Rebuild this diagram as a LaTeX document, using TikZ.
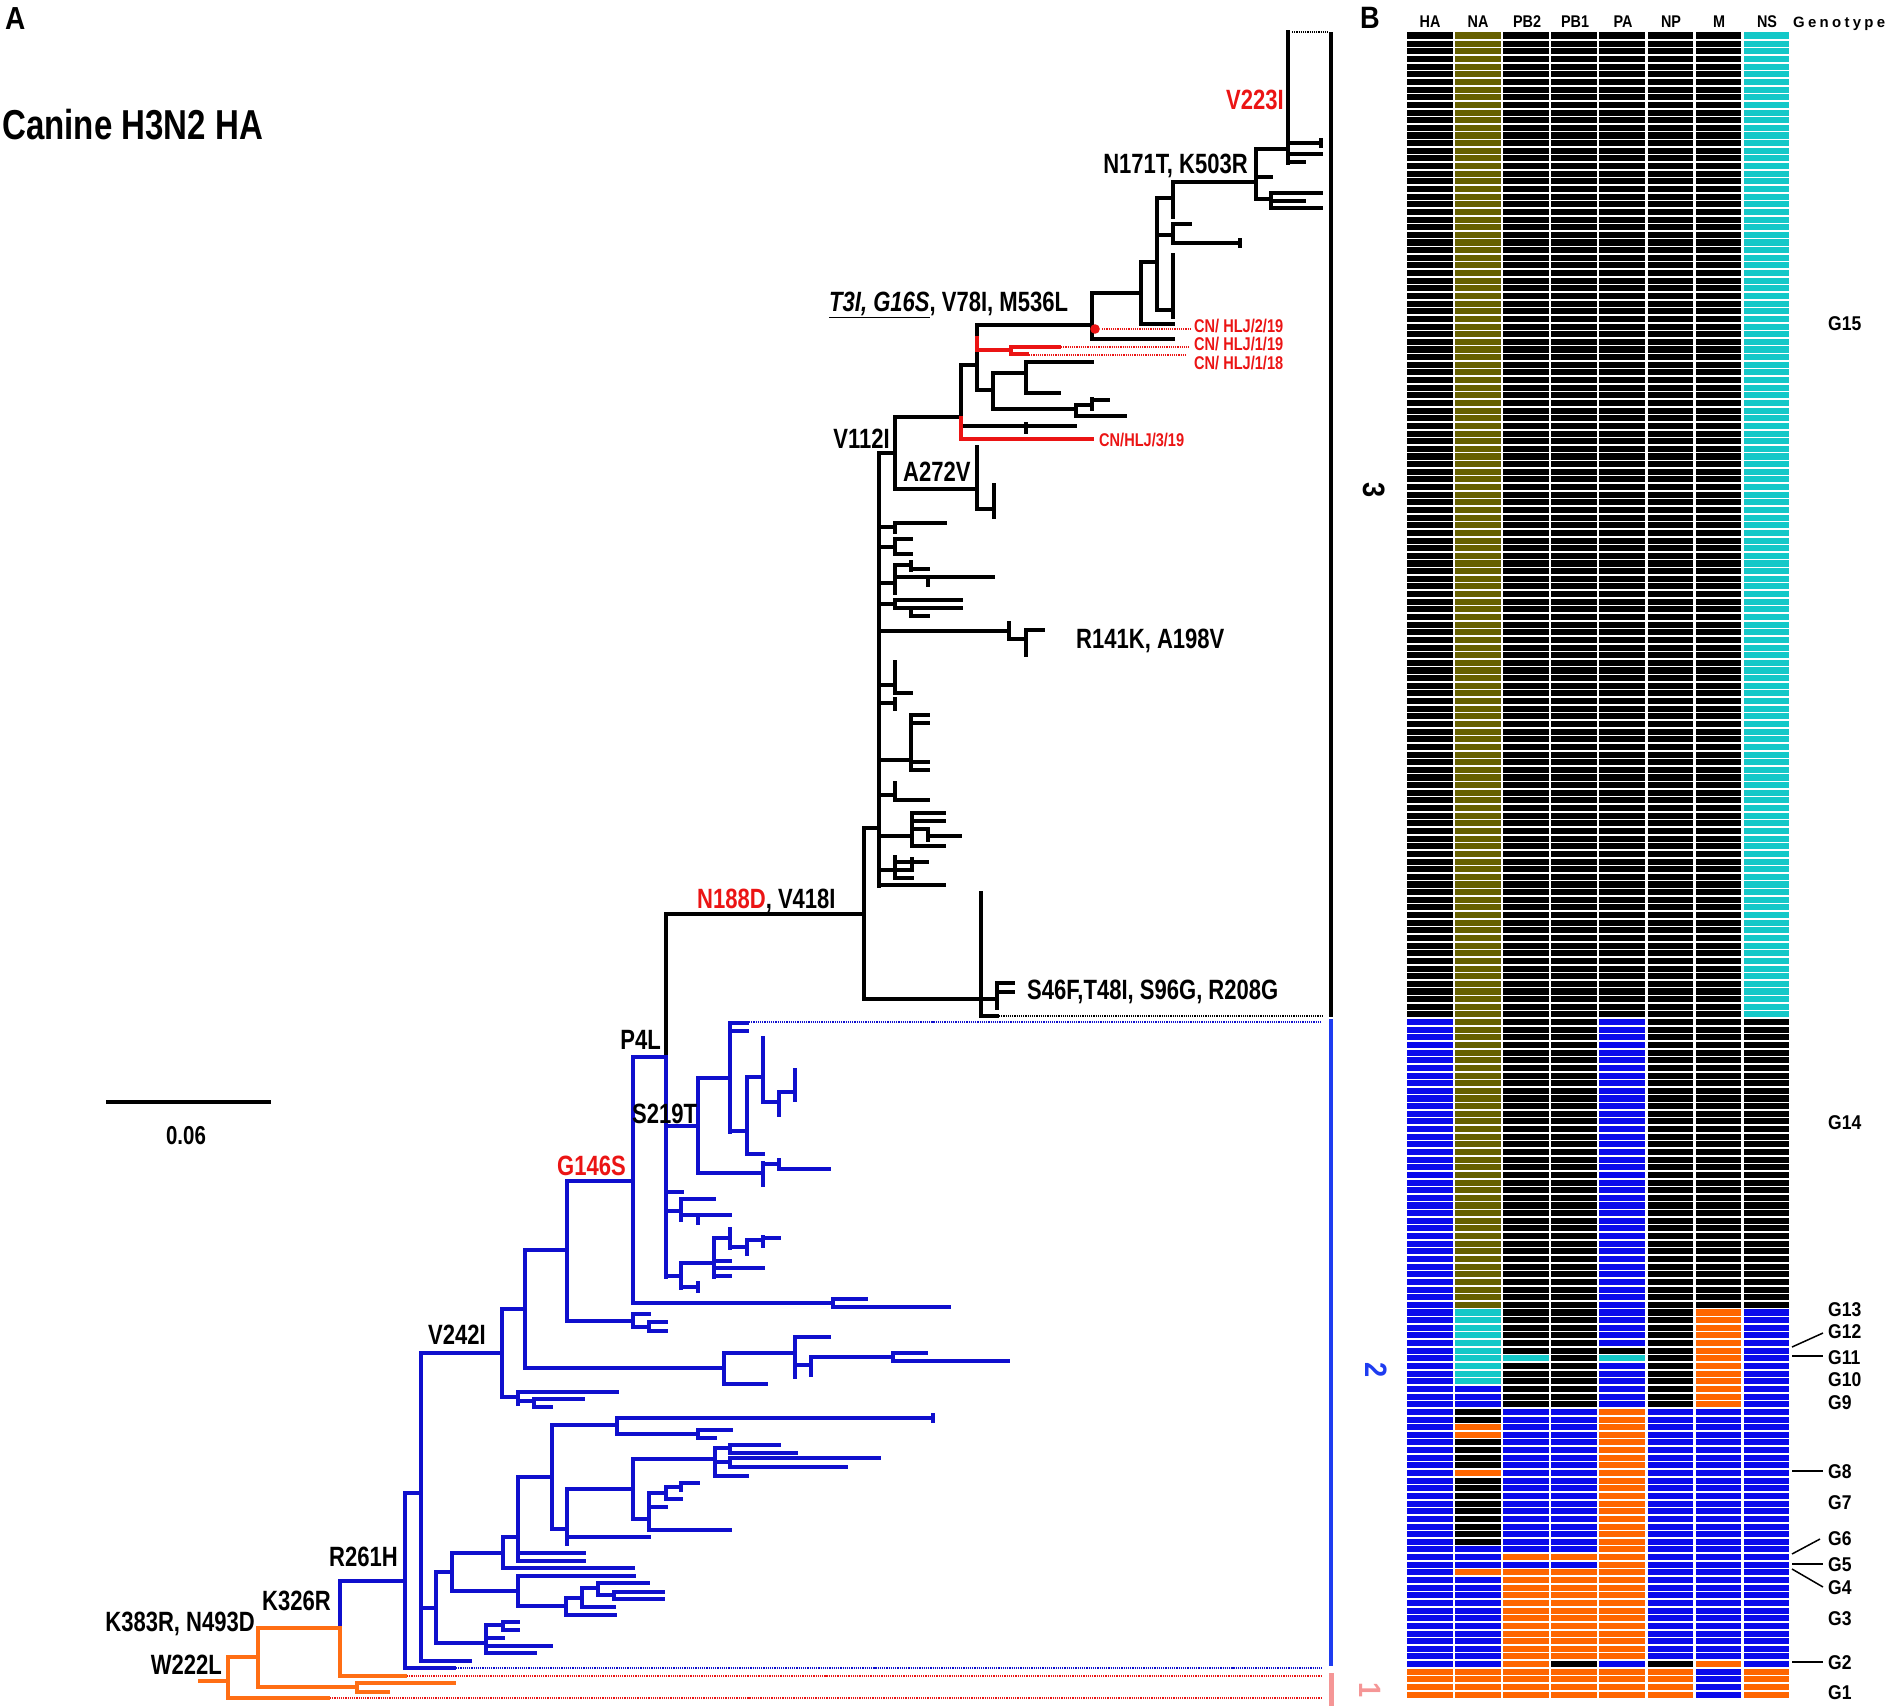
\documentclass[tikz,border=0pt]{standalone}
\usepackage{fontspec}
\setmainfont{Liberation Sans}[FakeStretch=0.88]
\newfontfamily\mfont{Liberation Sans}[FakeStretch=0.79]
\newfontfamily\hfont{Liberation Sans}[FakeStretch=0.85]
\newfontfamily\gfont{Liberation Sans}[LetterSpace=22]
\definecolor{tblue}{RGB}{15,15,205}
\definecolor{torange}{RGB}{255,110,20}
\definecolor{tred}{RGB}{235,20,20}
\definecolor{hK}{RGB}{0,0,0}
\definecolor{hB}{RGB}{10,10,235}
\definecolor{hR}{RGB}{255,102,0}
\definecolor{hO}{RGB}{102,96,0}
\definecolor{hC}{RGB}{20,200,200}
\definecolor{barblue}{RGB}{30,60,240}
\definecolor{barpink}{RGB}{245,150,150}
\newcommand\Hz[3]{\draw (#2,#1) -- (#3,#1);}
\newcommand\Vt[3]{\draw (#1,#2) -- (#1,#3);}
\newcommand\cellrun[4]{\fill[#4] ({1407+48.1*#1},{32.3+7.643*#2}) rectangle ({1452.5+48.1*#1},{32.3+7.643*(#3+1)});}
\begin{document}
\begin{tikzpicture}[x=1bp,y=-1bp,
  branch/.style={line width=3.6bp, line cap=rect},
  lead/.style={line width=1.2bp, densely dotted},
  mut/.style={font=\mfont\fontsize{28}{32}\selectfont\bfseries, inner sep=0},
  strain/.style={font=\mfont\fontsize{18.5}{22}\selectfont\bfseries, inner sep=0, text=tred},
  geno/.style={font=\fontsize{20}{24}\selectfont\bfseries, inner sep=0, anchor=base west},
  head/.style={font=\hfont\fontsize{17}{19}\selectfont\bfseries, inner sep=0, anchor=base},
  clade/.style={font=\fontsize{31}{34}\selectfont\bfseries, inner sep=0, rotate=-90},
  ptr/.style={line width=1.5bp}]
\useasboundingbox (0,0) rectangle (1890,1706);

% ---------------- titles ----------------
\node[font=\fontsize{32}{36}\selectfont\bfseries, inner sep=0, anchor=base west] (lblA) at (5,29) {A};
\node[font=\fontsize{31}{35}\selectfont\bfseries, inner sep=0, anchor=base west] (lblB) at (1360,28) {B};
\node[font=\mfont\fontsize{42}{46}\selectfont\bfseries, inner sep=0, anchor=base west] (title) at (2,139) {Canine H3N2 HA};

% scale bar
\draw[line width=3.2bp] (106,1102) -- (271,1102);
\node[font=\mfont\fontsize{26}{30}\selectfont\bfseries, inner sep=0, anchor=base] (scale) at (186,1144) {0.06};

% ---------------- black tree (clade 3) ----------------
\begin{scope}[branch, black]
\Vt{1288}{32}{163}
\Hz{143}{1288}{1321} \Vt{1321}{140}{146}
\Hz{154}{1288}{1321}
\Hz{162}{1288}{1304}
\Hz{149}{1256}{1288}
\Vt{1256}{149}{199}
\Hz{177}{1256}{1271}
\Hz{199}{1256}{1271}
\Vt{1271}{193}{208}
\Hz{193}{1271}{1321}
\Hz{201}{1271}{1304}
\Hz{208}{1271}{1321}
\Hz{182}{1173}{1256}
\Vt{1173}{182}{217}
\Hz{198}{1157}{1173}
\Vt{1157}{198}{310}
\Hz{235}{1157}{1173}
\Vt{1173}{224}{243}
\Hz{224}{1173}{1190}
\Hz{243}{1173}{1240} \Vt{1240}{240}{246}
\Hz{310}{1157}{1173}
\Vt{1173}{255}{317}
\Hz{262}{1141}{1157}
\Vt{1141}{262}{324}
\Hz{324}{1141}{1173}
\Hz{293}{1092}{1141}
\Vt{1092}{293}{339}
\Hz{339}{1092}{1173}
\Hz{325}{977}{1092}
\Vt{977}{325}{338}
\Vt{977}{350}{390}
\Hz{390}{977}{993}
\Vt{993}{373}{409}
\Hz{373}{993}{1026}
\Vt{1026}{362}{393}
\Hz{362}{1026}{1092}
\Hz{393}{1026}{1059}
\Hz{409}{993}{1076}
\Vt{1076}{405}{416}
\Hz{405}{1076}{1092}
\Vt{1092}{399}{409}
\Hz{400}{1092}{1108}
\Hz{416}{1076}{1125}
\Hz{365}{961}{977}
\Vt{961}{365}{418}
\Hz{426}{961}{1075} \Vt{1026}{424}{432}
\Hz{417}{895}{961}
\Vt{895}{417}{489}
\Hz{489}{895}{977}
\Vt{977}{447}{509}
\Hz{509}{977}{994}
\Vt{994}{485}{517}
\Hz{453}{879}{895}
\Vt{879}{453}{886}
% children of the 879 comb
\Hz{527}{879}{895} \Vt{895}{523}{532} \Hz{523}{895}{945}
\Hz{547}{879}{895} \Vt{895}{539}{554} \Hz{539}{895}{911} \Hz{554}{895}{911}
\Hz{583}{879}{895} \Vt{895}{565}{593} \Hz{565}{895}{911} \Vt{911}{562}{570} \Hz{569}{911}{928}
\Hz{577}{895}{928} \Vt{928}{577}{585} \Hz{577}{928}{993}
\Hz{604}{879}{895} \Vt{895}{600}{608} \Hz{600}{895}{961} \Hz{608}{895}{911} \Vt{911}{608}{616} \Hz{608}{911}{961} \Hz{616}{911}{928}
\Hz{631}{879}{1009} \Vt{1009}{623}{639} \Hz{639}{1009}{1026} \Vt{1026}{630}{655} \Hz{630}{1026}{1043}
\Hz{685}{879}{895} \Vt{895}{662}{693} \Hz{693}{895}{911}
\Hz{703}{879}{895} \Vt{895}{699}{709}
\Hz{760}{879}{911} \Vt{911}{715}{770} \Hz{715}{911}{928} \Hz{723}{911}{928} \Hz{762}{911}{928} \Hz{770}{911}{928}
\Hz{795}{879}{895} \Vt{895}{783}{800} \Hz{800}{895}{928}
\Hz{836}{879}{912} \Vt{912}{813}{846} \Hz{813}{912}{944} \Hz{821}{912}{944} \Hz{829}{912}{928} \Vt{928}{833}{840} \Hz{836}{928}{960} \Hz{846}{912}{944}
\Hz{870}{879}{895} \Vt{895}{857}{878} \Hz{862}{895}{912} \Vt{912}{859}{866} \Hz{862}{912}{927} \Hz{870}{895}{912} \Hz{878}{895}{912}
\Hz{885}{879}{944}
\Hz{828}{864}{879}
\Vt{864}{828}{999}
\Hz{914}{666}{864}
\Vt{666}{914}{1057}
\Hz{999}{864}{997}
\Vt{981}{893}{1016}
\Vt{997}{983}{1008}
\Hz{983}{997}{1013}
\Hz{992}{997}{1013}
\Hz{1016}{981}{997}
\end{scope}

% red branches
\begin{scope}[branch, tred]
\Vt{977}{338}{350}
\Hz{350}{977}{1011}
\Vt{1011}{347}{354}
\Hz{347}{1011}{1059}
\Hz{354}{1011}{1027}
\Vt{961}{418}{439}
\Hz{439}{961}{1092}
\end{scope}
\fill[tred] (1095,329) circle (4.8);

% ---------------- blue tree (clade 2) ----------------
\begin{scope}[branch, tblue]
\Vt{340}{1581}{1628}
\Hz{1581}{340}{405}
\Vt{405}{1493}{1668}
\Hz{1668}{405}{454}
\Hz{1493}{405}{421}
\Vt{421}{1353}{1661}
\Hz{1661}{421}{470}
\Hz{1608}{421}{436}
\Vt{436}{1572}{1643}
\Hz{1643}{436}{486} \Vt{486}{1625}{1653}
\Hz{1625}{486}{503} \Vt{503}{1622}{1630} \Hz{1622}{503}{518} \Hz{1630}{503}{518}
\Hz{1638}{486}{503} \Hz{1646}{486}{551} \Hz{1653}{486}{535}
\Hz{1572}{436}{452} \Vt{452}{1553}{1591}
\Hz{1591}{452}{518} \Vt{518}{1576}{1606}
\Hz{1576}{518}{634} \Hz{1606}{518}{566} \Vt{566}{1598}{1615}
\Hz{1598}{566}{582} \Vt{582}{1588}{1607}
\Hz{1588}{582}{598} \Vt{598}{1583}{1595}
\Hz{1583}{598}{648} \Hz{1595}{598}{614} \Vt{614}{1592}{1599}
\Hz{1592}{614}{663} \Hz{1599}{614}{663}
\Hz{1607}{582}{614} \Hz{1615}{566}{615}
\Hz{1553}{452}{503} \Vt{503}{1537}{1568}
\Hz{1568}{503}{633}
\Hz{1537}{503}{518} \Vt{518}{1477}{1561}
\Hz{1553}{518}{584} \Hz{1561}{518}{584}
\Hz{1477}{518}{552} \Vt{552}{1425}{1529}
\Hz{1425}{552}{617} \Vt{617}{1418}{1434}
\Hz{1418}{617}{933} \Vt{933}{1415}{1421}
\Hz{1434}{617}{698} \Vt{698}{1430}{1438} \Hz{1430}{698}{731} \Hz{1438}{698}{715}
\Hz{1529}{552}{567} \Vt{567}{1489}{1544}
\Hz{1537}{567}{649}
\Hz{1489}{567}{633} \Vt{633}{1459}{1519}
\Hz{1459}{633}{715} \Vt{715}{1448}{1476}
\Hz{1448}{715}{730} \Vt{730}{1445}{1453} \Hz{1445}{730}{779} \Hz{1453}{730}{796}
\Hz{1462}{715}{730} \Vt{730}{1458}{1467} \Hz{1458}{730}{879} \Hz{1467}{730}{846}
\Hz{1476}{715}{747}
\Hz{1519}{633}{649} \Vt{649}{1493}{1530}
\Hz{1493}{649}{666} \Vt{666}{1487}{1499}
\Hz{1487}{666}{681} \Vt{681}{1483}{1490} \Hz{1483}{681}{698}
\Hz{1499}{666}{681} \Hz{1507}{649}{666} \Hz{1530}{649}{730}
\Hz{1353}{421}{502} \Vt{502}{1309}{1397}
\Hz{1397}{502}{518} \Vt{518}{1392}{1404}
\Hz{1392}{518}{617} \Hz{1401}{518}{534} \Vt{534}{1399}{1407}
\Hz{1399}{534}{583} \Hz{1407}{534}{551}
\Hz{1309}{502}{525} \Vt{525}{1250}{1368}
\Hz{1368}{525}{724} \Vt{724}{1353}{1384}
\Hz{1384}{724}{766}
\Hz{1353}{724}{795} \Vt{795}{1337}{1377}
\Hz{1337}{795}{829}
\Hz{1365}{795}{811} \Vt{811}{1357}{1375}
\Hz{1357}{811}{893} \Vt{893}{1353}{1361}
\Hz{1353}{893}{926} \Hz{1361}{893}{1008}
\Hz{1250}{525}{567} \Vt{567}{1181}{1321}
\Hz{1321}{567}{633} \Vt{633}{1314}{1327}
\Hz{1314}{633}{649} \Hz{1327}{633}{649} \Vt{649}{1322}{1331}
\Hz{1322}{649}{666} \Hz{1331}{649}{666}
\Hz{1181}{567}{633} \Vt{633}{1057}{1303}
\Hz{1303}{633}{833} \Vt{833}{1299}{1307}
\Hz{1299}{833}{866} \Hz{1307}{833}{949}
\Hz{1057}{633}{666} \Vt{666}{1057}{1277}
\Hz{1126}{666}{698} \Vt{698}{1078}{1173}
\Hz{1078}{698}{730} \Vt{730}{1023}{1132}
\Hz{1023}{730}{747} \Hz{1031}{730}{747}
\Hz{1131}{730}{747} \Vt{747}{1077}{1154}
\Hz{1077}{747}{763} \Vt{763}{1038}{1102}
\Hz{1102}{763}{779} \Vt{779}{1092}{1115}
\Hz{1092}{779}{795} \Vt{795}{1070}{1100}
\Hz{1154}{747}{763}
\Hz{1173}{698}{763} \Vt{763}{1163}{1185}
\Hz{1164}{763}{779} \Vt{779}{1160}{1169} \Hz{1169}{779}{829}
\Hz{1192}{666}{682}
\Hz{1211}{666}{681} \Vt{681}{1199}{1220}
\Hz{1199}{681}{714} \Hz{1215}{681}{698} \Vt{698}{1215}{1223} \Hz{1215}{698}{730}
\Hz{1276}{666}{681} \Vt{681}{1263}{1288}
\Hz{1263}{681}{714} \Vt{714}{1238}{1277}
\Hz{1238}{714}{730} \Vt{730}{1229}{1248}
\Hz{1247}{730}{747} \Vt{747}{1240}{1254}
\Hz{1240}{747}{763} \Vt{763}{1237}{1246} \Hz{1238}{763}{779}
\Hz{1261}{714}{730} \Hz{1268}{714}{763} \Hz{1276}{714}{730}
\Hz{1287}{681}{698} \Vt{698}{1283}{1291}
\end{scope}

% ---------------- orange tree (clade 1) ----------------
\begin{scope}[branch, torange, line width=3.9bp]
\Hz{1681}{200}{228}
\Vt{228}{1657}{1698}
\Hz{1657}{228}{258}
\Hz{1698}{228}{328}
\Vt{258}{1628}{1687}
\Hz{1628}{258}{340}
\Hz{1687}{258}{357}
\Vt{357}{1683}{1692}
\Hz{1683}{357}{454}
\Hz{1692}{357}{388}
\Vt{340}{1628}{1676}
\Hz{1676}{340}{405}
\end{scope}

% ---------------- dotted leaders ----------------
\draw[lead, black] (1292,32) -- (1328,32);
\draw[lead, black] (999,1016) -- (1322,1016);
\draw[lead, tblue] (749,1022) -- (1322,1022);
\draw[lead, tblue] (456,1668) -- (1322,1668);
\draw[lead, tred] (407,1676) -- (1322,1676);
\draw[lead, tred] (330,1698) -- (1322,1698);
\draw[lead, tred] (1102,329) -- (1191,329);
\draw[lead, tred] (1061,347) -- (1189,347);
\draw[lead, tred] (1029,355) -- (1187,355);

% ---------------- mutation labels ----------------
\node[mut, text=tred, anchor=base east] (m1) at (1284,109) {V223I};
\node[mut, anchor=base east] (m2) at (1248,173) {N171T, K503R};
\node[mut, anchor=base west] (m3) at (829,311) {\underline{\itshape T3I, G16S}, V78I, M536L};
\node[mut, anchor=base east] (m4) at (890,448) {V112I};
\node[mut, anchor=base west] (m5) at (903,481) {A272V};
\node[mut, anchor=base west] (m6) at (1076,648) {R141K, A198V};
\node[mut, anchor=base west] (m7) at (697,908) {\textcolor{tred}{N188D}, V418I};
\node[mut, anchor=base west] (m8) at (1027,999) {S46F,T48I, S96G, R208G};
\node[mut, anchor=base east] (m9) at (661,1049) {P4L};
\node[mut, anchor=base west] (m10) at (632,1123) {S219T};
\node[mut, text=tred, anchor=base west] (m11) at (557,1175) {G146S};
\node[mut, anchor=base west] (m12) at (428,1344) {V242I};
\node[mut, anchor=base east] (m13) at (398,1566) {R261H};
\node[mut, anchor=base east] (m14) at (331,1610) {K326R};
\node[mut, anchor=base east] (m15) at (255,1631) {K383R, N493D};
\node[mut, anchor=base east] (m16) at (222,1674) {W222L};

% strain labels
\node[strain, anchor=base west] (s1) at (1194,332) {CN/ HLJ/2/19};
\node[strain, anchor=base west] (s2) at (1194,350) {CN/ HLJ/1/19};
\node[strain, anchor=base west] (s3) at (1194,369) {CN/ HLJ/1/18};
\node[strain, anchor=base west] (s4) at (1099,446) {CN/HLJ/3/19};

% ---------------- clade bars ----------------
\draw[line width=4.2bp, black] (1331,32) -- (1331,1017);
\draw[line width=4.2bp, barblue] (1331,1019) -- (1331,1666);
\draw[line width=5bp, barpink] (1331,1673) -- (1331,1706);
\node[clade, text=black] (c3) at (1374,490) {3};
\node[clade, text=barblue] (c2) at (1376,1370) {2};
\node[clade, text=barpink] (c1) at (1370,1690) {1};

% ---------------- heat map ----------------
\cellrun{0}{0}{128}{hK} \cellrun{0}{129}{213}{hB} \cellrun{0}{214}{217}{hR}
\cellrun{1}{0}{166}{hO} \cellrun{1}{167}{176}{hC} \cellrun{1}{177}{179}{hB} \cellrun{1}{180}{181}{hK}
\cellrun{1}{182}{183}{hR} \cellrun{1}{184}{187}{hK} \cellrun{1}{188}{188}{hR} \cellrun{1}{189}{197}{hK}
\cellrun{1}{198}{200}{hB} \cellrun{1}{201}{201}{hR} \cellrun{1}{202}{213}{hB} \cellrun{1}{214}{217}{hR}
\cellrun{2}{0}{172}{hK} \cellrun{2}{173}{173}{hC} \cellrun{2}{174}{179}{hK} \cellrun{2}{180}{198}{hB}
\cellrun{2}{199}{199}{hR} \cellrun{2}{200}{200}{hB} \cellrun{2}{201}{217}{hR}
\cellrun{3}{0}{179}{hK} \cellrun{3}{180}{198}{hB} \cellrun{3}{199}{199}{hR} \cellrun{3}{200}{200}{hB}
\cellrun{3}{201}{212}{hR} \cellrun{3}{213}{213}{hK} \cellrun{3}{214}{217}{hR}
\cellrun{4}{0}{128}{hK} \cellrun{4}{129}{171}{hB} \cellrun{4}{172}{172}{hK} \cellrun{4}{173}{173}{hC}
\cellrun{4}{174}{179}{hB} \cellrun{4}{180}{212}{hR} \cellrun{4}{213}{213}{hB} \cellrun{4}{214}{217}{hR}
\cellrun{5}{0}{179}{hK} \cellrun{5}{180}{212}{hB} \cellrun{5}{213}{213}{hK} \cellrun{5}{214}{217}{hR}
\cellrun{6}{0}{166}{hK} \cellrun{6}{167}{179}{hR} \cellrun{6}{180}{212}{hB} \cellrun{6}{213}{213}{hR} \cellrun{6}{214}{217}{hB}
\cellrun{7}{0}{128}{hC} \cellrun{7}{129}{166}{hK} \cellrun{7}{167}{213}{hB} \cellrun{7}{214}{217}{hR}
\foreach \k in {1,...,217} {\draw[white, line width=1.6bp] (1404,{32.3+7.643*\k}) -- (1792,{32.3+7.643*\k});}

% column headers
\node[head] (hHA) at (1430,27) {HA};
\node[head] (hNA) at (1478,27) {NA};
\node[head] (hPB2) at (1527,27) {PB2};
\node[head] (hPB1) at (1575,27) {PB1};
\node[head] (hPA) at (1623,27) {PA};
\node[head] (hNP) at (1671,27) {NP};
\node[head] (hM) at (1719,27) {M};
\node[head] (hNS) at (1767,27) {NS};
\node[font=\gfont\fontsize{15}{17}\selectfont\bfseries, inner sep=0, anchor=base west] (hG) at (1793,27) {Genotype};

% genotype labels
\node[geno] (g15) at (1828,330) {G15};
\node[geno] (g14) at (1828,1129) {G14};
\node[geno] (g13) at (1828,1316) {G13};
\node[geno] (g12) at (1828,1338) {G12};
\node[geno] (g11) at (1828,1364) {G11};
\node[geno] (g10) at (1828,1386) {G10};
\node[geno] (g9) at (1828,1409) {G9};
\node[geno] (g8) at (1828,1478) {G8};
\node[geno] (g7) at (1828,1509) {G7};
\node[geno] (g6) at (1828,1545) {G6};
\node[geno] (g5) at (1828,1571) {G5};
\node[geno] (g4) at (1828,1594) {G4};
\node[geno] (g3) at (1828,1625) {G3};
\node[geno] (g2) at (1828,1669) {G2};
\node[geno] (g1) at (1828,1699) {G1};
\coordinate (p12) at (1792,1347);
\coordinate (p11) at (1792,1356);
\coordinate (p8) at (1792,1471);
\coordinate (p6) at (1792,1554);
\coordinate (p5) at (1792,1564);
\coordinate (p4) at (1792,1569);
\coordinate (p2) at (1792,1662);
\draw[ptr] (p12) -- (1823,1333);
\draw[ptr] (p11) -- (1823,1356);
\draw[ptr] (p8) -- (1823,1471);
\draw[ptr] (p6) -- (1820,1539);
\draw[ptr] (p5) -- (1823,1564);
\draw[ptr] (p4) -- (1823,1587);
\draw[ptr] (p2) -- (1823,1662);
\end{tikzpicture}
\end{document}
